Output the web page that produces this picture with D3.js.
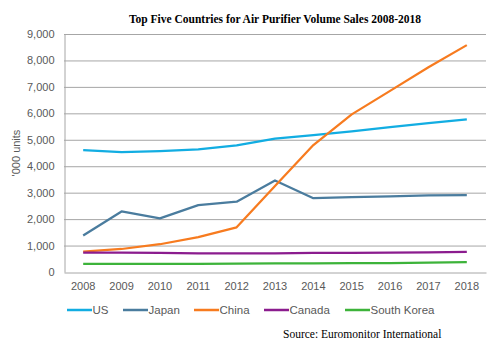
<!DOCTYPE html>
<html><head><meta charset="utf-8">
<script src="https://cdn.jsdelivr.net/npm/d3@7"></script>
<style>body{margin:0;background:#fff}svg{display:block}</style>
</head><body>
<svg id="c" width="500" height="354"></svg>
<script>
const years = ["2008","2009","2010","2011","2012","2013","2014","2015","2016","2017","2018"];
const yTicks = [0,1000,2000,3000,4000,5000,6000,7000,8000,9000];
const seriesNames = ["US","Japan","China","Canada","South Korea"];
const seriesColors = ["#12ADE2","#4A7C9E","#F77B1F","#8B1C8E","#3DB33A"];
const usVals = [4610,4530,4570,4640,4790,5040,5180,5320,5480,5630,5770];
const japanVals = [1380,2290,2030,2530,2660,3460,2790,2830,2860,2900,2910];
const chinaVals = [770,870,1050,1320,1690,3250,4800,5960,6850,7740,8580];
const canadaVals = [730,730,720,700,700,700,720,720,730,740,760];
const koreaVals = [310,310,310,310,320,330,330,340,340,350,370];
const allVals = [usVals,japanVals,chinaVals,canadaVals,koreaVals];

const svg = d3.select("#c");
const L=64,R=486,T=34,B=272;
const x = d3.scaleBand().domain(years).range([L,R]);
const y = d3.scaleLinear().domain([0,9000]).range([B,T]);

// gridlines
svg.append("g").selectAll("line").data(yTicks.filter(d=>d>0)).join("line")
  .attr("x1",L).attr("x2",R).attr("y1",d=>y(d)+0.5).attr("y2",d=>y(d)+0.5)
  .attr("stroke","#a6a6a6").attr("stroke-width",1);

// axes
const yAxis = svg.append("g").attr("transform",`translate(${L+0.5},0)`)
  .call(d3.axisLeft(y).tickValues(yTicks).tickFormat(d3.format(",")).tickSize(0).tickPadding(10));
yAxis.select(".domain").attr("stroke","#a6a6a6");
const xAxis = svg.append("g").attr("transform",`translate(0,${B+0.5})`)
  .call(d3.axisBottom(x).tickSize(0).tickPadding(10));
xAxis.select(".domain").attr("stroke","#a6a6a6");
svg.selectAll(".tick text").attr("font-family","Liberation Sans, Arial, sans-serif")
  .attr("font-size","11px").attr("fill","#595959");

// y title
svg.append("text").attr("transform",`translate(20,${(T+B)/2}) rotate(-90)`)
  .attr("text-anchor","middle").attr("font-family","Liberation Sans, Arial, sans-serif")
  .attr("font-size","11px").attr("fill","#595959").text("'000 units");

// lines
const line = d3.line().x((d,i)=>x(years[i])+x.bandwidth()/2).y(d=>y(d));
svg.append("g").selectAll("path").data(allVals).join("path")
  .attr("d",line).attr("fill","none").attr("stroke",(d,i)=>seriesColors[i])
  .attr("stroke-width",2.25).attr("stroke-linejoin","round");

// title
svg.append("text").attr("x",(L+R)/2).attr("y",23).attr("text-anchor","middle")
  .attr("font-family","Liberation Serif, Times New Roman, serif").attr("font-weight","bold")
  .attr("font-size","11.5px").attr("fill","#000")
  .text("Top Five Countries for Air Purifier Volume Sales 2008-2018");

// legend
const legX = [67,123,194,264,345];
const leg = svg.append("g").selectAll("g").data(seriesNames).join("g")
  .attr("transform",(d,i)=>`translate(${legX[i]},310)`);
leg.append("line").attr("x1",0).attr("x2",25).attr("y1",0).attr("y2",0)
  .attr("stroke",(d,i)=>seriesColors[i]).attr("stroke-width",2.5);
leg.append("text").attr("x",25.5).attr("y",4).attr("font-family","Liberation Sans, Arial, sans-serif")
  .attr("font-size","11.5px").attr("fill","#595959").text(d=>d);

// source
svg.append("text").attr("x",283).attr("y",338)
  .attr("font-family","Liberation Serif, Times New Roman, serif")
  .attr("font-size","11.5px").attr("fill","#000").text("Source: Euromonitor International");
</script>
</body></html>
